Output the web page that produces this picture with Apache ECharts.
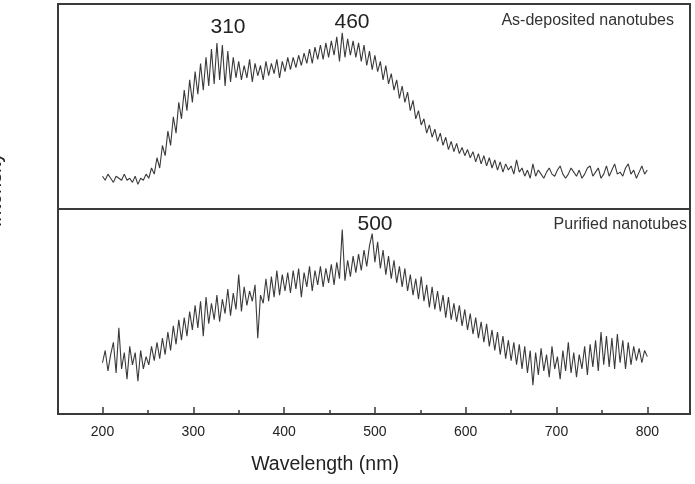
<!DOCTYPE html>
<html>
<head>
<meta charset="utf-8">
<title>Spectra</title>
<script src="https://cdn.jsdelivr.net/npm/echarts@6/dist/echarts.min.js"></script>
<style>
  html, body { margin: 0; padding: 0; background: #fff; }
  #main { width: 695px; height: 484px; }
</style>
</head>
<body>
<div id="main"></div>
<script>
// wavelength grid of the spectra (nm)
const waveStart = 200
const waveStep = 3

// as-deposited nanotubes, arbitrary intensity (0-100 inside the upper panel)
const asDeposited = [
  16, 14, 17, 15, 13, 16, 15, 14, 17, 14,
  15, 13, 16, 12, 15, 14, 17, 15, 20, 17,
  25, 20, 31, 26, 38, 31, 45, 37, 52, 44,
  58, 48, 63, 52, 67, 56, 71, 58, 74, 60,
  78, 61, 81, 63, 80, 60, 77, 62, 74, 64,
  72, 63, 70, 64, 73, 62, 71, 65, 70, 63,
  72, 65, 71, 66, 73, 64, 72, 67, 74, 68,
  74, 69, 75, 70, 76, 71, 78, 71, 79, 73,
  80, 73, 81, 74, 82, 75, 84, 72, 86, 74,
  83, 75, 82, 74, 81, 72, 80, 70, 77, 68,
  75, 67, 72, 63, 70, 61, 66, 58, 63, 54,
  60, 52, 57, 48, 53, 44, 48, 41, 44, 37,
  41, 35, 39, 33, 37, 31, 35, 29, 33, 28,
  32, 27, 30, 26, 29, 25, 28, 23, 27, 22,
  26, 21, 25, 20, 24, 19, 23, 18, 22, 19,
  21, 17, 24, 18, 20, 16, 19, 15, 22, 16,
  19, 17, 15, 18, 20, 17, 16, 19, 21, 17,
  15, 17, 20, 18, 16, 19, 15, 17, 20, 21,
  16, 18, 20, 15, 17, 21, 16, 19, 22, 17,
  18, 16, 20, 22, 17, 19, 15, 18, 21, 17,
  19
]

// purified nanotubes, arbitrary intensity (0-100 inside the lower panel)
const purified = [
  25, 31, 21, 29, 35, 20, 42, 22, 30, 17,
  33, 24, 30, 16, 31, 22, 28, 24, 33, 26,
  35, 27, 37, 29, 40, 31, 43, 34, 46, 36,
  47, 38, 50, 41, 53, 42, 55, 38, 57, 44,
  54, 46, 58, 45, 56, 49, 61, 48, 59, 51,
  68, 50, 62, 53, 60, 55, 63, 37, 58, 54,
  66, 55, 67, 57, 70, 58, 68, 60, 69, 59,
  70, 61, 71, 57, 69, 62, 72, 60, 70, 63,
  72, 62, 71, 64, 73, 63, 74, 66, 90, 65,
  75, 67, 77, 69, 78, 70, 80, 72, 82, 88,
  74, 84, 71, 80, 68, 77, 66, 75, 64, 72,
  62, 71, 60, 68, 58, 66, 56, 67, 55, 63,
  52, 62, 51, 60, 50, 58, 47, 57, 46, 54,
  45, 53, 43, 51, 41, 49, 39, 47, 37, 45,
  35, 44, 33, 41, 31, 40, 29, 38, 27, 36,
  26, 35, 24, 34, 22, 33, 20, 31, 14, 30,
  19, 32, 21, 29, 18, 33, 22, 28, 17, 31,
  21, 35, 20, 30, 18, 29, 22, 33, 19, 34,
  23, 36, 21, 40, 24, 38, 23, 37, 22, 39,
  25, 36, 22, 35, 24, 33, 26, 32, 25, 31,
  28
]

const majorTicks = [200, 300, 400, 500, 600, 700, 800]
const minorTicks = [250, 350, 450, 550, 650, 750]

const peakLabels = ['310', '460', '500']
const panelLabels = ['As-deposited nanotubes', 'Purified nanotubes']

function toPairs (values) {
  return values.map((v, i) => [waveStart + i * waveStep, v])
}

const font = 'Liberation Sans, Arial, Helvetica, sans-serif'
const frame = '#3a3a3a'

const chart = echarts.init(document.getElementById('main'))
const option = {
  animation: false,
  backgroundColor: '#fff',
  grid: [
    { left: 58, right: 5, top: 4, height: 205, show: true, borderColor: frame, borderWidth: 2 },
    { left: 58, right: 5, top: 209, height: 205, show: true, borderColor: frame, borderWidth: 2 }
  ],
  xAxis: [
    { gridIndex: 0, type: 'value', min: 151, max: 847, show: false },
    {
      gridIndex: 1,
      type: 'value',
      min: 151,
      max: 847,
      axisLine: { show: false },
      splitLine: { show: false },
      axisTick: { inside: true, length: 7, customValues: majorTicks, lineStyle: { color: frame, width: 1.5 } },
      axisLabel: { customValues: majorTicks, margin: 11, fontSize: 14, color: '#222', fontFamily: font }
    },
    {
      gridIndex: 1,
      type: 'value',
      min: 151,
      max: 847,
      position: 'bottom',
      axisLine: { show: false },
      splitLine: { show: false },
      axisTick: { inside: true, length: 4, customValues: minorTicks, lineStyle: { color: frame, width: 1.5 } },
      axisLabel: { show: false }
    }
  ],
  yAxis: [
    { gridIndex: 0, type: 'value', min: 0, max: 100, show: false },
    { gridIndex: 1, type: 'value', min: 0, max: 100, show: false }
  ],
  series: [
    {
      name: panelLabels[0],
      type: 'line',
      xAxisIndex: 0,
      yAxisIndex: 0,
      data: toPairs(asDeposited),
      showSymbol: false,
      lineStyle: { color: '#3a3a3a', width: 1.1 }
    },
    {
      name: panelLabels[1],
      type: 'line',
      xAxisIndex: 1,
      yAxisIndex: 1,
      data: toPairs(purified),
      showSymbol: false,
      lineStyle: { color: '#3a3a3a', width: 1.1 }
    }
  ],
  graphic: [
    // peak positions
    { type: 'text', x: 228, y: 27, style: { text: peakLabels[0], font: '21px ' + font, fill: '#222', textAlign: 'center', textVerticalAlign: 'middle' } },
    { type: 'text', x: 352, y: 22, style: { text: peakLabels[1], font: '21px ' + font, fill: '#222', textAlign: 'center', textVerticalAlign: 'middle' } },
    { type: 'text', x: 375, y: 224, style: { text: peakLabels[2], font: '21px ' + font, fill: '#222', textAlign: 'center', textVerticalAlign: 'middle' } },
    // panel names
    { type: 'text', x: 674, y: 21, style: { text: panelLabels[0], font: '16px ' + font, fill: '#333', textAlign: 'right', textVerticalAlign: 'middle' } },
    { type: 'text', x: 687, y: 225, style: { text: panelLabels[1], font: '16px ' + font, fill: '#333', textAlign: 'right', textVerticalAlign: 'middle' } },
    // axis titles
    { type: 'text', x: 325, y: 465, style: { text: 'Wavelength (nm)', font: '19.5px ' + font, fill: '#222', textAlign: 'center', textVerticalAlign: 'middle' } },
    { type: 'text', x: -5, y: 190, rotation: Math.PI / 2, style: { text: 'Intensity', font: '20px ' + font, fill: '#222', textAlign: 'center', textVerticalAlign: 'middle' } }
  ]
}
option && chart.setOption(option)
</script>
</body>
</html>
